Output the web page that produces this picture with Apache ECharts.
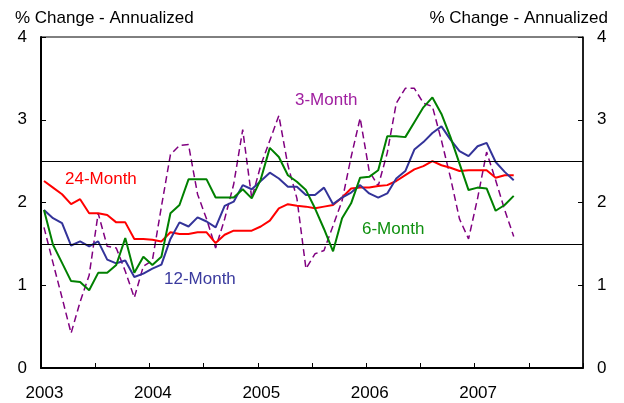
<!DOCTYPE html>
<html>
<head>
<meta charset="utf-8">
<script src="https://cdn.jsdelivr.net/npm/echarts@6/dist/echarts.min.js"></script>
<style>
  html, body { margin: 0; padding: 0; background: #fff; }
  #main { width: 624px; height: 403px; }
</style>
</head>
<body>
<div id="main"></div>
<script>
// monthly observations, Jan 2003 .. May 2007
var threeMonth = [1.70, 1.27, 0.85, 0.42, 0.80, 1.12, 1.87, 1.47, 1.45, 1.17, 0.85, 1.23,
                  1.30, 1.95, 2.58, 2.69, 2.70, 2.10, 1.80, 1.45, 1.80, 2.22, 2.88, 2.05,
                  2.45, 2.75, 3.05, 2.45, 2.05, 1.20, 1.38, 1.42, 1.72, 2.02, 2.55, 3.02,
                  2.38, 2.20, 2.60, 3.20, 3.38, 3.38, 3.20, 3.16, 2.75, 2.30, 1.80, 1.56,
                  2.05, 2.61, 2.27, 1.91, 1.59];
var sixMonth = [1.91, 1.49, 1.27, 1.05, 1.04, 0.94, 1.15, 1.15, 1.245, 1.57, 1.15, 1.345,
                1.245, 1.345, 1.87, 1.97, 2.28, 2.28, 2.28, 2.06, 2.06, 2.06, 2.16, 2.05,
                2.28, 2.66, 2.55, 2.33, 2.25, 2.15, 1.93, 1.68, 1.41, 1.81, 1.99, 2.30,
                2.31, 2.39, 2.80, 2.80, 2.79, 2.97, 3.15, 3.27, 3.07, 2.79, 2.47, 2.15,
                2.18, 2.17, 1.90, 1.97, 2.08];
var twelveMonth = [1.91, 1.81, 1.75, 1.48, 1.53, 1.47, 1.53, 1.31, 1.265, 1.30, 1.10, 1.14,
                   1.20, 1.25, 1.56, 1.76, 1.71, 1.82, 1.77, 1.70, 1.96, 2.01, 2.21, 2.16,
                   2.26, 2.36, 2.29, 2.19, 2.19, 2.09, 2.09, 2.18, 1.98, 2.06, 2.12, 2.21,
                   2.11, 2.06, 2.11, 2.29, 2.38, 2.64, 2.73, 2.84, 2.92, 2.76, 2.62, 2.56,
                   2.68, 2.72, 2.49, 2.37, 2.27];
var twentyFourMonth = [2.26, 2.18, 2.10, 1.98, 2.04, 1.87, 1.87, 1.85, 1.76, 1.76, 1.56, 1.56,
                       1.55, 1.53, 1.64, 1.62, 1.62, 1.64, 1.64, 1.51, 1.61, 1.66, 1.66, 1.66,
                       1.71, 1.78, 1.93, 1.98, 1.96, 1.95, 1.93, 1.95, 1.97, 2.06, 2.17, 2.18,
                       2.18, 2.20, 2.21, 2.26, 2.33, 2.40, 2.44, 2.50, 2.45, 2.42, 2.38, 2.39,
                       2.39, 2.39, 2.30, 2.33, 2.33];
var yearLabels = ['2003', '2004', '2005', '2006', '2007'];
var refLines = [1.5, 2.5];

var FONT = 'Liberation Sans, Arial, sans-serif';

// x is months since Jan 2003; observations sit a third of a month in
function pairs(values) {
    return values.map(function (v, i) { return [i + 0.33, v]; });
}

var myChart = echarts.init(document.getElementById('main'));

var option = {
    animation: false,
    grid: {
        left: 41, right: 41, top: 37, bottom: 35,
        show: true, borderColor: '#000', borderWidth: 1
    },
    title: [
        {text: '% Change - Annualized', left: 10, top: 5,
         textStyle: {fontFamily: FONT, fontSize: 17, fontWeight: 'normal', color: '#000'}},
        {text: '% Change - Annualized', right: 11, top: 5,
         textStyle: {fontFamily: FONT, fontSize: 17, fontWeight: 'normal', color: '#000'}}
    ],
    xAxis: {
        type: 'value', min: 0, max: 60, interval: 6,
        axisLine: {lineStyle: {color: '#000', width: 2}},
        axisTick: {inside: true, length: 5, lineStyle: {color: '#000', width: 1}},
        splitLine: {show: false},
        axisLabel: {
            fontFamily: FONT, fontSize: 17, color: '#000', margin: 17,
            padding: [0, 0, 0, 7],
            formatter: function (v) {
                return (v % 12 === 0 && yearLabels[v / 12]) ? yearLabels[v / 12] : '';
            }
        }
    },
    yAxis: [
        {
            type: 'value', min: 0, max: 4, interval: 1, position: 'left',
            axisLine: {show: true, lineStyle: {color: '#000', width: 2}},
            axisTick: {show: true, inside: true, length: 5, lineStyle: {color: '#000'}},
            splitLine: {show: false},
            axisLabel: {fontFamily: FONT, fontSize: 17, color: '#000', margin: 14}
        },
        {
            type: 'value', min: 0, max: 4, interval: 1, position: 'right',
            axisLine: {show: true, lineStyle: {color: '#000', width: 1.5}},
            axisTick: {show: true, inside: true, length: 5, lineStyle: {color: '#000'}},
            splitLine: {show: false},
            axisLabel: {fontFamily: FONT, fontSize: 17, color: '#000', margin: 14}
        }
    ],
    series: [
        {
            name: '3-Month', type: 'line', data: pairs(threeMonth),
            symbol: 'none', z: 2,
            lineStyle: {color: '#800080', width: 1.5, type: [7, 4]},
            markLine: {
                silent: true, symbol: 'none', label: {show: false},
                lineStyle: {color: '#000', width: 1, type: 'solid'},
                data: refLines.map(function (v) { return {yAxis: v}; })
            }
        },
        {
            name: '24-Month', type: 'line', data: pairs(twentyFourMonth),
            symbol: 'none', z: 3,
            lineStyle: {color: '#ff0000', width: 2}
        },
        {
            name: '12-Month', type: 'line', data: pairs(twelveMonth),
            symbol: 'none', z: 4,
            lineStyle: {color: '#333399', width: 2}
        },
        {
            name: '6-Month', type: 'line', data: pairs(sixMonth),
            symbol: 'none', z: 5,
            lineStyle: {color: '#008000', width: 2}
        }
    ],
    graphic: [
        {type: 'text', left: 65, top: 171, style: {text: '24-Month', fill: '#ff0000', font: '17px ' + FONT}},
        {type: 'text', left: 164, top: 271, style: {text: '12-Month', fill: '#3a3a9e', font: '17px ' + FONT}},
        {type: 'text', left: 295, top: 92, style: {text: '3-Month', fill: '#a020a0', font: '17px ' + FONT}},
        {type: 'text', left: 362, top: 221, style: {text: '6-Month', fill: '#109010', font: '17px ' + FONT}}
    ]
};

myChart.setOption(option);
</script>
</body>
</html>
